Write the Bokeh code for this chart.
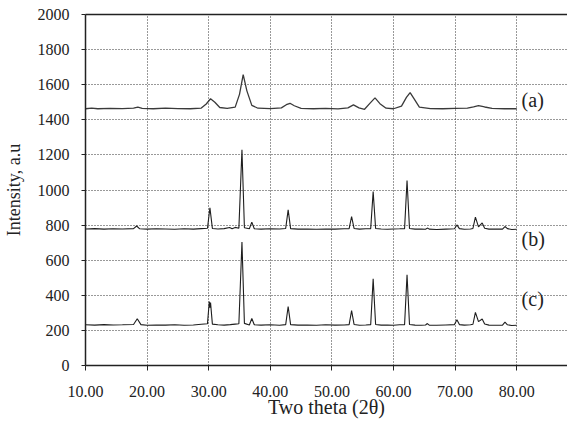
from bokeh.plotting import figure
from bokeh.models import FixedTicker, PrintfTickFormatter, LinearAxis, Range1d
from bokeh.core.properties import value
from bokeh.embed import file_html
from bokeh.resources import INLINE

# ---- data ----
x_a = [10, 11, 12, 14, 16, 17.8, 18.5, 19.2, 21, 23, 25, 27, 28.8, 29.6, 30.3, 31.0, 31.8, 33, 34.3,
       35.0, 35.6, 36.2, 37.0, 38, 40, 41.8, 42.6, 43.2, 43.9, 45, 47, 49, 51, 52.6, 53.5, 54.4, 55.3,
       56.2, 57.0, 57.8, 58.8, 60, 61.3, 62.1, 62.7, 63.3, 64.2, 66, 68, 70, 72, 73.0, 73.8, 74.8, 76, 78, 80]
y_a = [1463, 1467, 1463, 1465, 1464, 1466, 1472, 1465, 1463, 1466, 1464, 1463, 1467, 1490, 1520, 1500,
       1470, 1465, 1472, 1545, 1658, 1565, 1482, 1466, 1464, 1468, 1486, 1494, 1480, 1465, 1463, 1465,
       1462, 1468, 1485, 1468, 1460, 1495, 1525, 1492, 1466, 1463, 1478, 1528, 1555, 1522, 1472, 1464,
       1463, 1465, 1466, 1474, 1481, 1473, 1465, 1463, 1463]

x_b = [10, 11.5, 13, 14.5, 16, 17.8, 18.3, 18.8, 20, 21.5, 23, 24.5, 26, 27.5, 28.8, 29.8, 30.2, 30.6,
       31.5, 32.5, 33.4, 33.8, 34.3, 34.9, 35.4, 35.8, 36.6, 37.0, 37.4, 38.5, 40, 41.5, 42.5, 42.9,
       43.3, 44.5, 46, 47.5, 49, 50.5, 52, 52.8, 53.2, 53.6, 54.5, 55.5, 56.3, 56.7, 57.1, 58, 59, 60,
       61, 61.8, 62.2, 62.6, 63.5, 64.5, 65.2, 65.5, 65.8, 67, 68.5, 69.9, 70.3, 70.7, 71.5, 72.5, 72.9,
       73.3, 73.8, 74.4, 74.8, 75.5, 76.5, 77.7, 78.1, 78.5, 79.2, 80]
y_b = [778, 780, 777, 779, 778, 780, 795, 779, 777, 779, 778, 776, 779, 777, 780, 782, 899, 781,
       778, 780, 786, 779, 787, 782, 1229, 785, 779, 817, 779, 777, 779, 778, 781, 887,
       780, 777, 778, 776, 778, 777, 779, 780, 849, 781, 777, 779, 780, 991, 781, 778, 776, 778,
       779, 780, 1054, 781, 777, 778, 776, 783, 777, 775, 777, 779, 801, 780, 776, 778, 781,
       845, 790, 812, 782, 777, 778, 777, 792, 780, 775, 776]

x_c = [10, 11.5, 13, 14.5, 16, 17.8, 18.4, 19.0, 20, 21.5, 23, 24.5, 26, 27.5, 28.8, 29.8, 30.1, 30.2,
       30.3, 30.6, 31.5, 32.5, 33.5, 34.3, 34.9, 35.4, 35.8, 36.6, 37.0, 37.4, 38.5, 40, 41.5, 42.5,
       42.9, 43.3, 44.5, 46, 47.5, 49, 50.5, 52, 52.8, 53.2, 53.6, 54.5, 55.5, 56.3, 56.7, 57.1, 58,
       59, 60, 61, 61.8, 62.2, 62.6, 63.5, 64.5, 65.2, 65.5, 65.8, 67, 68.5, 69.9, 70.3, 70.7, 71.5,
       72.5, 72.9, 73.3, 73.8, 74.4, 74.8, 75.5, 76.5, 77.7, 78.1, 78.5, 79.2, 80]
y_c = [232, 230, 233, 231, 232, 234, 266, 233, 229, 231, 230, 232, 229, 231, 235, 238, 365, 330,
       358, 236, 232, 230, 233, 236, 238, 703, 240, 231, 268, 232, 230, 232, 229, 233,
       336, 233, 230, 231, 229, 232, 230, 231, 233, 313, 234, 229, 231, 233, 494, 234, 230,
       231, 229, 232, 233, 517, 234, 230, 229, 231, 239, 230, 229, 231, 233, 260, 233, 230,
       232, 235, 303, 250, 265, 236, 230, 229, 230, 247, 232, 228, 229]

series_labels = ["(a)", "(b)", "(c)"]
label_x = [80.8, 80.8, 80.8]
label_y = [1513, 722, 381]

x_ticks = [10, 20, 30, 40, 50, 60, 70, 80]
y_ticks = [0, 200, 400, 600, 800, 1000, 1200, 1400, 1600, 1800, 2000]

FONT = "Liberation Serif"

p = figure(width=567, height=420, output_backend="svg", toolbar_location=None,
           x_range=Range1d(10, 88.25), y_range=Range1d(0, 2000),
           min_border_left=85, min_border_right=0, min_border_top=14, min_border_bottom=55)
p.outline_line_color = None
p.background_fill_color = "white"
p.border_fill_color = "white"

for xs, ys, col, w in [(x_a, y_a, "#3a3a3a", 1.3), (x_b, y_b, "#1e1e1e", 1.1), (x_c, y_c, "#1e1e1e", 1.1)]:
    p.line(xs, ys, line_color=col, line_width=w)

p.text(x=label_x, y=label_y, text=series_labels, text_font=value(FONT),
       text_font_size="20px", text_baseline="middle", text_align="left", text_color="#222")

# axes
p.xaxis.ticker = FixedTicker(ticks=x_ticks)
p.xaxis.formatter = PrintfTickFormatter(format="%.2f")
p.yaxis.ticker = FixedTicker(ticks=y_ticks)
for ax in (p.xaxis[0], p.yaxis[0]):
    ax.axis_line_color = "#222"
    ax.axis_line_width = 1.5
    ax.major_tick_line_color = "#222"
    ax.major_tick_line_width = 1
    ax.major_tick_in = 0
    ax.minor_tick_line_color = None
    ax.major_label_text_font = FONT
    ax.major_label_text_font_size = "16px"
    ax.major_label_text_color = "#222"
    ax.axis_label_text_font = FONT
    ax.axis_label_text_font_style = "normal"
    ax.axis_label_text_color = "#222"
p.xaxis.major_tick_out = 5
p.yaxis.major_tick_out = 4
p.yaxis.major_label_standoff = 12
p.xaxis.major_label_standoff = 15
p.xaxis.axis_label = "Two theta (2θ)"
p.xaxis.axis_label_text_font_size = "20px"
p.xaxis.axis_label_standoff = -4
p.yaxis.axis_label = "Intensity, a.u"
p.yaxis.axis_label_text_font_size = "18px"
p.yaxis.axis_label_standoff = 11

top = LinearAxis(ticker=FixedTicker(ticks=[]), major_label_text_font_size="0px",
                 major_tick_out=0, major_tick_in=0, minor_tick_out=0, minor_tick_in=0,
                 axis_line_color="#222", axis_line_width=1.5, major_label_standoff=0)
p.add_layout(top, "above")

p.grid.grid_line_color = "#333"
p.grid.grid_line_dash = "1 2"
p.grid.grid_line_width = 1
p.xgrid.ticker = FixedTicker(ticks=x_ticks)
p.ygrid.ticker = FixedTicker(ticks=y_ticks)

open("out.html", "w").write(file_html(p, INLINE))
